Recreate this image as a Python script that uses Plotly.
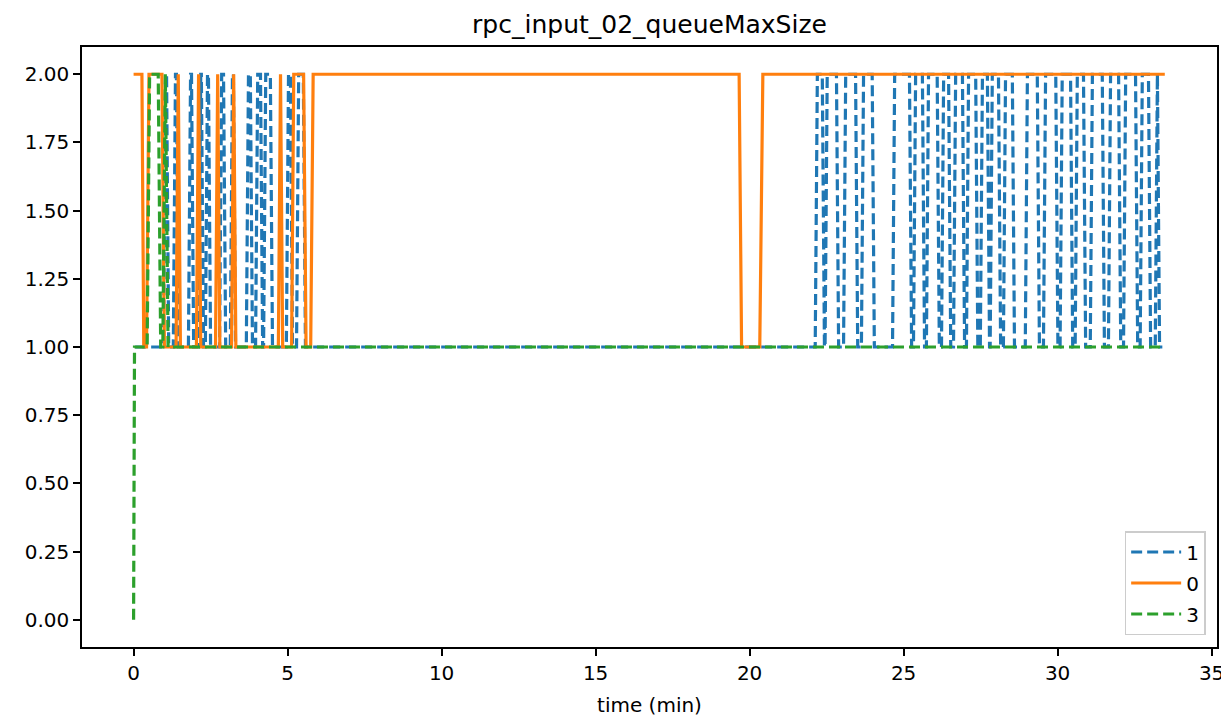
import plotly.graph_objects as go

title_text = "rpc_input_02_queueMaxSize"
x_label = "time (min)"

# series "1" (blue dashed)
s1_t = [0.05, 0.97, 1.04, 1.07, 1.14, 1.29, 1.36, 1.39, 1.46, 1.78, 1.85, 1.88, 1.95,
        2.11, 2.18, 2.20, 2.27, 2.33, 2.40, 2.43, 2.50, 2.79, 2.86, 2.92, 2.99,
        3.14, 3.21, 3.24, 3.31, 3.66, 3.73, 3.79, 3.86, 3.96, 4.03, 4.12, 4.19,
        4.22, 4.29, 4.44, 4.51, 4.96, 5.03, 5.09, 5.16, 5.29, 5.36, 5.51, 5.58,
        22.13, 22.20, 22.36, 22.43, 22.45, 22.52, 22.82, 22.89, 23.05, 23.12, 23.44, 23.51,
        23.63, 23.70, 23.98, 24.05, 24.64, 24.71, 25.19, 25.26, 25.32, 25.39, 25.61, 25.68,
        25.74, 25.81, 26.09, 26.16, 26.23, 26.30, 26.46, 26.53, 26.62, 26.69, 26.91, 26.98,
        27.04, 27.11, 27.34, 27.41, 27.49, 27.56, 27.72, 27.79, 27.81, 27.88, 28.08, 28.15,
        28.24, 28.31, 28.53, 28.60, 28.95, 29.02, 29.34, 29.41, 29.54, 29.61, 29.94, 30.01,
        30.08, 30.15, 30.42, 30.49, 30.57, 30.64, 30.84, 30.91, 31.06, 31.13, 31.45, 31.52,
        31.65, 31.72, 31.98, 32.05, 32.14, 32.21, 32.53, 32.60, 32.68, 32.75, 32.95, 33.02,
        33.17, 33.24, 33.31, 33.40]
s1_v = [1, 1, 2, 2, 1, 1, 2, 2, 1, 1, 2, 2, 1,
        1, 2, 2, 1, 1, 2, 2, 1, 1, 2, 2, 1,
        1, 2, 2, 1, 1, 2, 2, 1, 1, 2, 2, 1,
        1, 2, 2, 1, 1, 2, 2, 1, 1, 2, 2, 1,
        1, 2, 2, 1, 1, 2, 2, 1, 1, 2, 2, 1,
        1, 2, 2, 1, 1, 2, 2, 1, 1, 2, 2, 1,
        1, 2, 2, 1, 1, 2, 2, 1, 1, 2, 2, 1,
        1, 2, 2, 1, 1, 2, 2, 1, 1, 2, 2, 1,
        1, 2, 2, 1, 1, 2, 2, 1, 1, 2, 2, 1,
        1, 2, 2, 1, 1, 2, 2, 1, 1, 2, 2, 1,
        1, 2, 2, 1, 1, 2, 2, 1, 1, 2, 2, 1,
        1, 2, 1, 1]

# series "0" (orange solid)
s0_t = [0.0, 0.27, 0.33, 0.42, 0.50, 0.92, 1.00, 1.38, 1.45, 1.52, 2.04, 2.11, 2.18,
        2.66, 2.73, 2.80, 3.18, 3.25, 3.32, 4.70, 4.77, 4.84, 5.13, 5.20, 5.52, 5.60,
        5.75, 5.83, 19.66, 19.74, 20.33, 20.43, 33.48]
s0_v = [2, 2, 1, 1, 2, 2, 1, 1, 2, 1, 1, 2, 1,
        1, 2, 1, 1, 2, 1, 1, 2, 1, 1, 2, 2, 1,
        1, 2, 2, 1, 1, 2, 2]

# series "3" (green dashed)
s3_t = [0.0, 0.03, 0.44, 0.52, 0.80, 0.88, 0.95, 1.03, 1.12, 33.40]
s3_v = [0, 1, 1, 2, 2, 1, 1, 2, 1, 1]

series_names = ["1", "0", "3"]
colors = ["#1f77b4", "#ff7f0e", "#2ca02c"]

x_ticks = [0, 5, 10, 15, 20, 25, 30, 35]
y_ticks = [0.0, 0.25, 0.5, 0.75, 1.0, 1.25, 1.5, 1.75, 2.0]
y_tick_text = ["0.00", "0.25", "0.50", "0.75", "1.00", "1.25", "1.50", "1.75", "2.00"]

fig = go.Figure()
fig.add_trace(go.Scatter(x=s1_t, y=s1_v, mode="lines", name=series_names[0], legendgroup="a",
                         line=dict(color=colors[0], width=3.2, dash="11px,5px")))
fig.add_trace(go.Scatter(x=s0_t, y=s0_v, mode="lines", name=series_names[1], legendgroup="b",
                         line=dict(color=colors[1], width=3.2)))
fig.add_trace(go.Scatter(x=s3_t, y=s3_v, mode="lines", name=series_names[2], legendgroup="c",
                         line=dict(color=colors[2], width=3.2, dash="11px,5px")))

# page body has an 8px margin, so the figure is sized/offset to compensate
W, H = 1221, 713
font_family = "DejaVu Sans"
fig.update_layout(
    width=W, height=H,
    margin=dict(l=74, r=12, t=39, b=74),
    paper_bgcolor="white", plot_bgcolor="white",
    font=dict(family=font_family, size=20, color="black"),
    title=dict(text=title_text, x=(74 + 1209) / 2 / W, xanchor="center",
               y=1 - 16 / H, yanchor="middle",
               font=dict(family=font_family, size=25, color="black")),
    showlegend=True,
    legend=dict(x=0.99, y=0.02, xanchor="right", yanchor="bottom",
                bgcolor="rgba(255,255,255,0.8)", bordercolor="#cccccc", borderwidth=1.5,
                font=dict(family=font_family, size=20, color="black"),
                tracegroupgap=2, itemwidth=50),
)
fig.update_xaxes(
    range=[-1.675, 35.175], tickmode="array", tickvals=x_ticks, automargin=False,
    showgrid=False, zeroline=False, showline=True, linecolor="black", linewidth=1.5,
    mirror=True, ticks="outside", ticklen=7, tickwidth=1.5, tickcolor="black",
    tickfont=dict(family=font_family, size=20),
    title=dict(text=x_label, font=dict(family=font_family, size=20), standoff=14),
)
fig.update_yaxes(
    range=[-0.1, 2.1], tickmode="array", tickvals=y_ticks, ticktext=y_tick_text,
    automargin=False, tickfont=dict(family=font_family, size=20),
    showgrid=False, zeroline=False, showline=True, linecolor="black", linewidth=1.5,
    mirror=True, ticks="outside", ticklen=7, tickwidth=1.5, tickcolor="black",
)

fig.write_html("out.html")
